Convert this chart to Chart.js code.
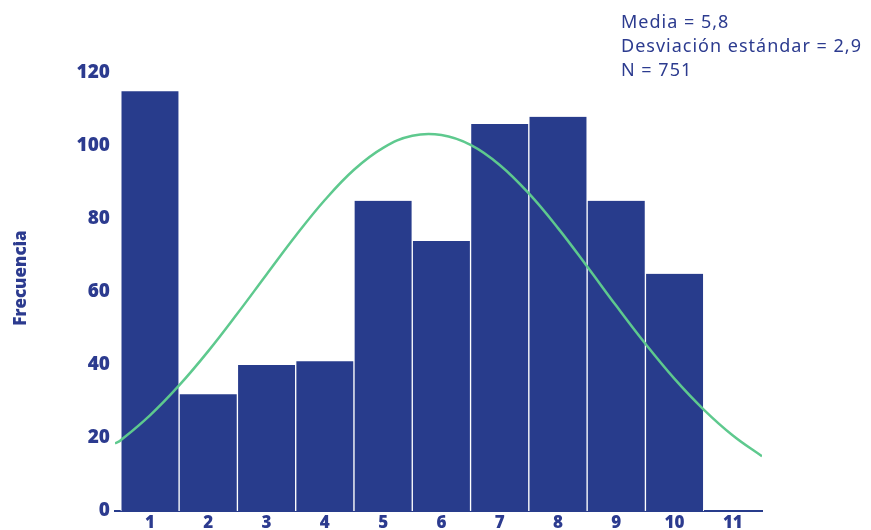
<!DOCTYPE html>
<html>
<head>
<meta charset="utf-8">
<script src="https://cdn.jsdelivr.net/npm/chart.js@4/dist/chart.umd.min.js"></script>
<style>
    body { margin: 0; background: #fff; }
    #wrap { position: relative; width: 871px; height: 530px; }
    #stats {
        position: absolute; left: 621px; top: 9px;
        font-family: 'Noto Sans', sans-serif; font-size: 18px; line-height: 24px;
        letter-spacing: 1px;
        color: #2c3b8f;
    }
</style>
</head>
<body>
<div id="wrap">
    <canvas id="histChart" width="871" height="530"></canvas>
    <div id="stats">Media = 5,8<br>Desviación estándar = 2,9<br>N = 751</div>
</div>
<script>
// clases (puntuaciones) y frecuencias
const clases = [1, 2, 3, 4, 5, 6, 7, 8, 9, 10, 11];
const frecuencias = [115, 32, 40, 41, 85, 74, 106, 108, 85, 65, 0];

// curva normal ajustada
const curvaX = [0.4, 0.5, 1, 1.5, 2, 2.5, 3, 3.5, 4, 4.5, 5, 5.5, 6, 6.5, 7, 7.5, 8, 8.5, 9, 9.5, 10, 10.5, 11, 11.5];
const curvaY = [18.5, 19.4, 26.2, 34.4, 43.8, 54.1, 64.8, 75.4, 85.2, 93.5, 99.5, 102.8, 103.0, 100.3, 94.8, 87.0, 77.5, 67.0, 56.2, 45.8, 36.2, 27.8, 20.7, 15.0];

const yTicks = [0, 20, 40, 60, 80, 100, 120];

document.addEventListener('DOMContentLoaded', function() {
    const azul = '#283c8c';
    const texto = '#2c3b8f';
    const ctx = document.getElementById('histChart');

    // título del eje Y dibujado a mano (un poco por encima del centro, como el original)
    const tituloEjeY = {
        id: 'tituloEjeY',
        afterDraw: function(chart) {
            const c = chart.ctx;
            c.save();
            c.translate(21, 278);
            c.rotate(-Math.PI / 2);
            c.fillStyle = texto;
            c.font = '800 17px "Open Sans"';
            c.textAlign = 'center';
            c.textBaseline = 'middle';
            c.fillText('Frecuencia', 0, 0);
            c.restore();
        }
    };

    new Chart(ctx.getContext('2d'), {
        data: {
            datasets: [{
                type: 'line',
                data: curvaX.map(function(x, i) { return {x: x, y: curvaY[i]}; }),
                borderColor: '#5ec98e',
                borderWidth: 2.5,
                pointRadius: 0,
                tension: 0.4,
                fill: false,
                order: 0
            }, {
                type: 'bar',
                data: clases.map(function(c, i) { return {x: c, y: frecuencias[i]}; }),
                backgroundColor: azul,
                borderColor: '#ffffff',
                borderWidth: {left: 1, right: 1, top: 0, bottom: 0},
                borderSkipped: false,
                barPercentage: 1,
                categoryPercentage: 1,
                order: 1
            }]
        },
        options: {
            responsive: false,
            animation: false,
            layout: { padding: { top: 73, right: 109, left: 0, bottom: 0 } },
            plugins: { legend: { display: false }, tooltip: { enabled: false } },
            scales: {
                x: {
                    type: 'linear',
                    offset: false,
                    min: 0.4,
                    max: 11.5,
                    grid: { display: false, drawTicks: false },
                    border: { display: true, color: azul, width: 2 },
                    afterBuildTicks: function(scale) {
                        scale.ticks = clases.map(function(v) { return {value: v}; });
                    },
                    afterFit: function(scale) { scale.height = 19; },
                    ticks: {
                        padding: 2,
                        color: texto,
                        font: { family: 'Open Sans', size: 17, weight: 800 }
                    }
                },
                y: {
                    min: 0,
                    max: 120,
                    grid: { display: false, drawTicks: false },
                    border: { display: false },
                    afterBuildTicks: function(scale) {
                        scale.ticks = yTicks.map(function(v) { return {value: v}; });
                    },
                    afterFit: function(scale) { scale.width = 115; },
                    ticks: {
                        padding: 5,
                        color: texto,
                        font: { family: 'Open Sans', size: 19, weight: 800 }
                    }
                }
            }
        },
        plugins: [tituloEjeY]
    });
});
</script>
</body>
</html>
